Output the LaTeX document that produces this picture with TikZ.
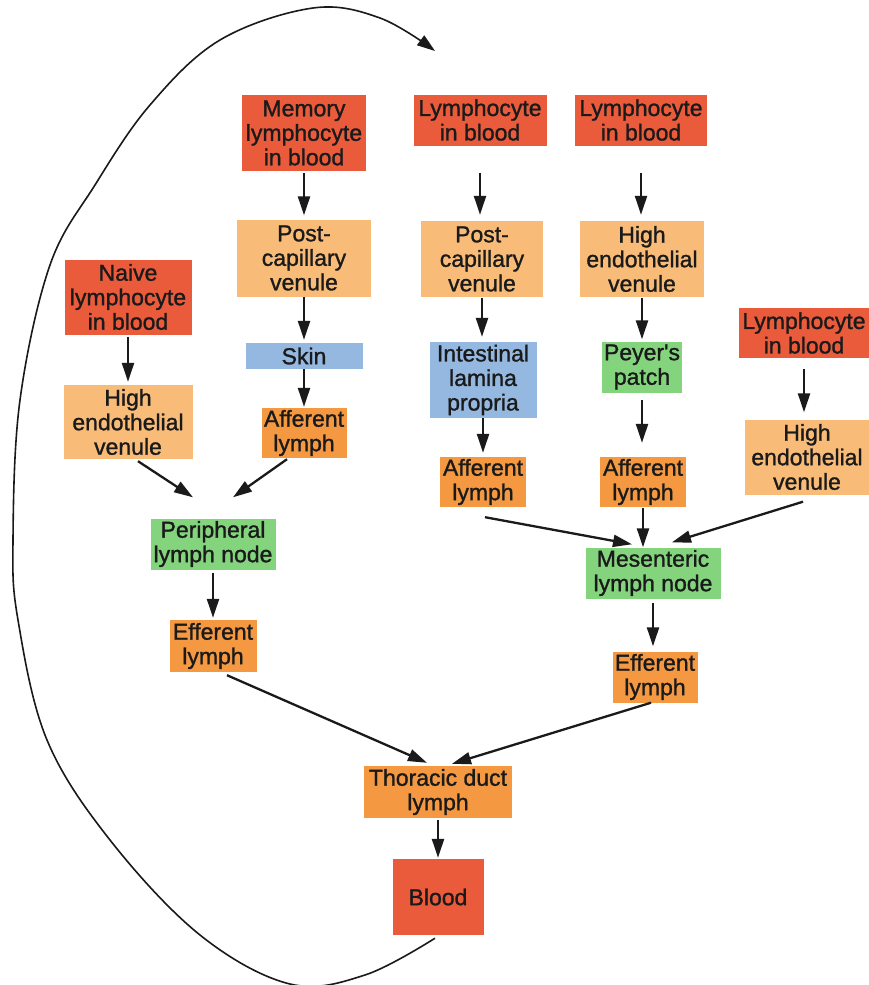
\documentclass[tikz,border=0pt]{standalone}
\usepackage{fontspec}
\setmainfont{Liberation Sans}
\newfontfamily\boxfont[FakeBold=1.2]{Liberation Sans}
\usetikzlibrary{arrows.meta,calc}
\definecolor{cred}{HTML}{EA5B3C}
\definecolor{cpeach}{HTML}{F8BC78}
\definecolor{corange}{HTML}{F49842}
\definecolor{cblue}{HTML}{94B8E0}
\definecolor{cgreen}{HTML}{84D47E}
\definecolor{ctext}{HTML}{1A1A1A}
\begin{document}
\begin{tikzpicture}[x=1pt,y=-1pt,
  box/.style={rectangle, inner sep=0pt, align=center, text=ctext,
    font=\boxfont\fontsize{23}{24.5}\selectfont},
  redbox/.style={box, fill=cred},
  peachbox/.style={box, fill=cpeach},
  orangebox/.style={box, fill=corange},
  bluebox/.style={box, fill=cblue},
  greenbox/.style={box, fill=cgreen},
  arr/.style={line width=2.3pt, draw=ctext, -{Triangle[length=19pt,width=12pt]}},
  looparr/.style={line width=1.6pt, draw=ctext, -{Triangle[length=18pt,width=12pt]}}
]
\useasboundingbox (0,0) rectangle (868,985);
\fill[white] (0,0) rectangle (868,985);

% top row
\node[redbox, minimum width=124pt, minimum height=76pt] (mem) at (304,133) {Memory\\lymphocyte\\in blood};
\node[redbox, minimum width=133pt, minimum height=51pt] (lb1) at (480,120) {Lymphocyte\\in blood};
\node[redbox, minimum width=132pt, minimum height=51pt] (lb2) at (641,120) {Lymphocyte\\in blood};

% second row
\node[peachbox, minimum width=134pt, minimum height=77pt] (pcv1) at (304,258) {Post-\\capillary\\venule};
\node[peachbox, minimum width=122pt, minimum height=76pt] (pcv2) at (482,259) {Post-\\capillary\\venule};
\node[peachbox, minimum width=124pt, minimum height=76pt] (hev2) at (642,259) {High\\endothelial\\venule};

% left column
\node[redbox, minimum width=127pt, minimum height=75pt] (naive) at (128,297) {Naive\\lymphocyte\\in blood};
\node[peachbox, minimum width=129pt, minimum height=74pt] (hev1) at (128,422) {High\\endothelial\\venule};

\node[bluebox, minimum width=117pt, minimum height=26pt] (skin) at (304,356) {Skin};
\node[orangebox, minimum width=85pt, minimum height=50pt] (aff1) at (304,433) {Afferent\\lymph};

\node[greenbox, minimum width=125pt, minimum height=51pt] (pln) at (213,544) {Peripheral\\lymph node};
\node[orangebox, minimum width=87pt, minimum height=52pt] (eff1) at (213,646) {Efferent\\lymph};

% middle columns
\node[bluebox, minimum width=107pt, minimum height=76pt] (ilp) at (483,380) {Intestinal\\lamina\\propria};
\node[greenbox, minimum width=80pt, minimum height=51pt] (peyer) at (642,367) {Peyer\textquotesingle s\\patch};
\node[orangebox, minimum width=86pt, minimum height=50pt] (aff2) at (483,482) {Afferent\\lymph};
\node[orangebox, minimum width=86pt, minimum height=50pt] (aff3) at (643,482) {Afferent\\lymph};

% right column
\node[redbox, minimum width=130pt, minimum height=50pt] (lbR) at (804,333) {Lymphocyte\\in blood};
\node[peachbox, minimum width=124pt, minimum height=75pt] (hevR) at (807,457) {High\\endothelial\\venule};

\node[greenbox, minimum width=135pt, minimum height=51pt] (mln) at (653,573) {Mesenteric\\lymph node};
\node[orangebox, minimum width=85pt, minimum height=51pt] (eff2) at (655,677) {Efferent\\lymph};

% bottom
\node[orangebox, minimum width=148pt, minimum height=52pt] (tdl) at (438,792) {Thoracic duct\\lymph};
\node[redbox, minimum width=91pt, minimum height=76pt] (blood) at (438,897) {Blood};

% vertical arrows
\draw[arr, shorten <=2pt, shorten >=4pt] (mem.south) -- (mem.south |- pcv1.north);
\draw[arr, shorten <=27pt, shorten >=6pt] (lb1.south) -- (lb1.south |- pcv2.north);
\draw[arr, shorten <=27pt, shorten >=6pt] (lb2.south) -- (lb2.south |- hev2.north);
\draw[arr, shorten <=0pt, shorten >=3pt] (pcv1.south) -- (pcv1.south |- skin.north);
\draw[arr, shorten <=0pt, shorten >=1pt] (skin.south) -- (skin.south |- aff1.north);
\draw[arr, shorten <=1pt, shorten >=5pt] (pcv2.south) -- (pcv2.south |- ilp.north);
\draw[arr, shorten <=1pt, shorten >=2pt] (hev2.south) -- (hev2.south |- peyer.north);
\draw[arr, shorten <=0pt, shorten >=4pt] (ilp.south) -- (ilp.south |- aff2.north);
\draw[arr, shorten <=7pt, shorten >=14pt] (peyer.south) -- (peyer.south |- aff3.north);
\draw[arr, shorten <=2pt, shorten >=3pt] (naive.south) -- (naive.south |- hev1.north);
\draw[arr, shorten <=11pt, shorten >=7pt] (lbR.south) -- (lbR.south |- hevR.north);
\draw[arr, shorten <=3pt, shorten >=2pt] (pln.south) -- (pln.south |- eff1.north);
\draw[arr, shorten <=1pt] (aff3.south) -- (aff3.south |- mln.north);
\draw[arr, shorten <=4pt, shorten >=5pt] (mln.south) -- (mln.south |- eff2.north);
\draw[arr, shorten <=2pt, shorten >=1pt] (tdl.south) -- (tdl.south |- blood.north);

% diagonal arrows
\draw[arr] ($(hev1.south)+(10,2)$) -- ($(pln.north)+(-20,-21)$);
\draw[arr] ($(aff1.south)+(-17,1)$) -- ($(pln.north)+(20,-21)$);
\draw[arr] ($(aff2.south)+(2,10)$) -- ($(mln.north)+(-21,-3)$);
\draw[arr] ($(hevR.south)+(-4,7)$) -- ($(mln.north)+(19,-5)$);
\draw[arr] ($(eff1.south)+(14,3)$) -- ($(tdl.north)+(-11,-3)$);
\draw[arr] ($(eff2.south)+(-4,0)$) -- ($(tdl.north)+(14,-2)$);

% recirculation loop
\coordinate (loopend) at (435,51);
\draw[looparr] plot[smooth, tension=0.6] coordinates {
  ($(blood.south)+(-3,3)$) (365,975) (290,984) (200,935) (110,840) (47,740)
  (18,620) (13,540) (20,400) (50,265) (95,185) (150,105) (220,40)
  (313,8) (380,18) (loopend)};
\end{tikzpicture}
\end{document}
